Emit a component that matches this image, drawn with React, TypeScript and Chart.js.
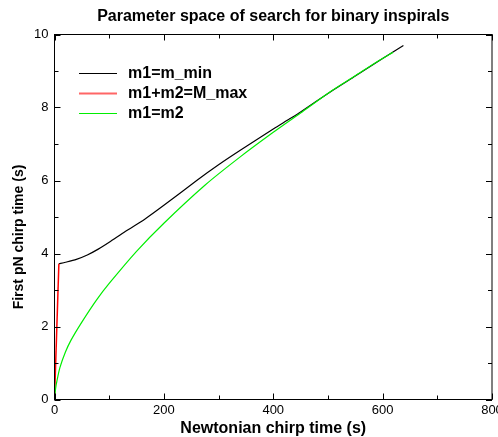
import React, { useEffect, useRef } from "react";
import { Chart, registerables } from "chart.js";

Chart.register(...registerables);

// m1 = m_min curve
const minMassX = [8, 20, 40, 60, 80, 100, 130, 165, 200, 260, 300, 339, 400, 430, 450, 509, 550, 600, 638];
const minMassY = [3.72, 3.76, 3.84, 3.96, 4.12, 4.31, 4.61, 4.94, 5.32, 6.0, 6.43, 6.82, 7.41, 7.69, 7.88, 8.47, 8.86, 9.34, 9.7];

// m1 + m2 = M_max curve
const maxMassX = [0, 8];
const maxMassY = [0, 3.72];

// m1 = m2 curve
const equalMassX = [0, 2, 5, 10, 20, 30, 50, 77, 100, 150, 200, 275, 339, 400, 450, 503, 550, 595, 619];
const equalMassY = [0, 0.3, 0.55, 0.88, 1.3, 1.62, 2.12, 2.73, 3.18, 4.06, 4.83, 5.87, 6.64, 7.32, 7.85, 8.42, 8.87, 9.3, 9.51];

const seriesLabels = ["m1=m_min", "m1+m2=M_max", "m1=m2"];
const seriesColors = ["#000000", "#ff0000", "#00ee00"];

const xTickValues = [0, 100, 200, 300, 400, 500, 600, 700, 800];
const xTickLabels = ["0", "", "200", "", "400", "", "600", "", "800"];
const yTickValues = [0, 1, 2, 3, 4, 5, 6, 7, 8, 9, 10];
const yTickLabels = ["0", "", "2", "", "4", "", "6", "", "8", "", "10"];

const chartTitle = "Parameter space of search for binary inspirals";
const xTitle = "Newtonian chirp time (s)";
const yTitle = "First pN chirp time (s)";

const toPoints = (xs: number[], ys: number[]) => xs.map((x, i) => ({ x, y: ys[i] }));

const decorPlugin = {
  id: "decor",
  afterDraw(chart: any) {
    const { ctx, chartArea: a } = chart;
    const xs = chart.scales.x;
    const ys = chart.scales.y;
    ctx.save();
    ctx.strokeStyle = "#000";
    ctx.lineWidth = 1;
    ctx.strokeRect(a.left, a.top, a.right - a.left, a.bottom - a.top);

    // ticks pointing inward
    ctx.beginPath();
    xTickValues.forEach((v, i) => {
      const px = Math.round(xs.getPixelForValue(v)) + 0.5;
      const len = xTickLabels[i] ? 6 : 4;
      ctx.moveTo(px, a.bottom);
      ctx.lineTo(px, a.bottom - len);
      ctx.moveTo(px, a.top);
      ctx.lineTo(px, a.top + len);
    });
    yTickValues.forEach((v, i) => {
      const py = Math.round(ys.getPixelForValue(v)) + 0.5;
      const len = yTickLabels[i] ? 6 : 4;
      ctx.moveTo(a.left, py);
      ctx.lineTo(a.left + len, py);
      ctx.moveTo(a.right, py);
      ctx.lineTo(a.right - len, py);
    });
    ctx.stroke();

    // tick labels
    ctx.fillStyle = "#000";
    ctx.font = "13px 'Liberation Sans', Arial, sans-serif";
    ctx.textAlign = "center";
    ctx.textBaseline = "top";
    xTickValues.forEach((v, i) => {
      if (!xTickLabels[i]) return;
      ctx.fillText(xTickLabels[i], xs.getPixelForValue(v), a.bottom + 4);
    });
    ctx.textAlign = "right";
    ctx.textBaseline = "middle";
    yTickValues.forEach((v, i) => {
      if (!yTickLabels[i]) return;
      ctx.fillText(yTickLabels[i], a.left - 6, ys.getPixelForValue(v));
    });

    // titles
    const cx = (a.left + a.right) / 2;
    ctx.font = "bold 16px 'Liberation Sans', Arial, sans-serif";
    ctx.textAlign = "center";
    ctx.textBaseline = "middle";
    ctx.fillText(chartTitle, cx, 17);
    ctx.fillText(xTitle, cx, 429);
    ctx.save();
    ctx.font = "bold 14px 'Liberation Sans', Arial, sans-serif";
    ctx.translate(19, 237);
    ctx.rotate(-Math.PI / 2);
    ctx.fillText(yTitle, 0, 0);
    ctx.restore();

    // legend inside plot
    ctx.font = "bold 16px 'Liberation Sans', Arial, sans-serif";
    ctx.textAlign = "left";
    ctx.textBaseline = "middle";
    chart.data.datasets.forEach((ds: any, i: number) => {
      const yy = 73 + i * 20;
      ctx.strokeStyle = ds.borderColor;
      ctx.lineWidth = i === 1 ? 2 : 1;
      ctx.globalAlpha = i === 1 ? 0.6 : 1;
      ctx.beginPath();
      ctx.moveTo(79, yy + 0.5);
      ctx.lineTo(117, yy + 0.5);
      ctx.stroke();
      ctx.globalAlpha = 1;
      ctx.fillStyle = "#000";
      ctx.fillText(ds.label, 128, yy + 1);
    });
    ctx.restore();
  },
};

export default function App() {
  const canvasRef = useRef<HTMLCanvasElement | null>(null);

  useEffect(() => {
    document.body.style.margin = "0";
    const canvas = canvasRef.current;
    if (!canvas) return;
    const chart = new Chart(canvas, {
      type: "scatter",
      data: {
        datasets: [
          {
            label: seriesLabels[0],
            data: toPoints(minMassX, minMassY),
            borderColor: seriesColors[0],
            backgroundColor: seriesColors[0],
            borderWidth: 1.2,
            showLine: true,
            pointRadius: 0,
            tension: 0.25,
            order: 3,
          },
          {
            label: seriesLabels[1],
            data: toPoints(maxMassX, maxMassY),
            borderColor: seriesColors[1],
            backgroundColor: seriesColors[1],
            borderWidth: 1.5,
            showLine: true,
            pointRadius: 0,
            order: 2,
          },
          {
            label: seriesLabels[2],
            data: toPoints(equalMassX, equalMassY),
            borderColor: seriesColors[2],
            backgroundColor: seriesColors[2],
            borderWidth: 1.2,
            showLine: true,
            pointRadius: 0,
            tension: 0.25,
            order: 1,
          },
        ],
      },
      options: {
        responsive: false,
        animation: false,
        layout: { padding: { left: 54.5, right: 6, top: 34.5, bottom: 37.5 } },
        scales: {
          x: { type: "linear", min: 0, max: 800, display: false },
          y: { type: "linear", min: 0, max: 10, display: false },
        },
        plugins: {
          legend: { display: false },
          title: { display: false },
          tooltip: { enabled: false },
        },
      },
      plugins: [decorPlugin],
    });
    return () => chart.destroy();
  }, []);

  return (
    <div style={{ width: 498, height: 437 }}>
      <canvas ref={canvasRef} width={498} height={437} style={{ display: "block" }} />
    </div>
  );
}
